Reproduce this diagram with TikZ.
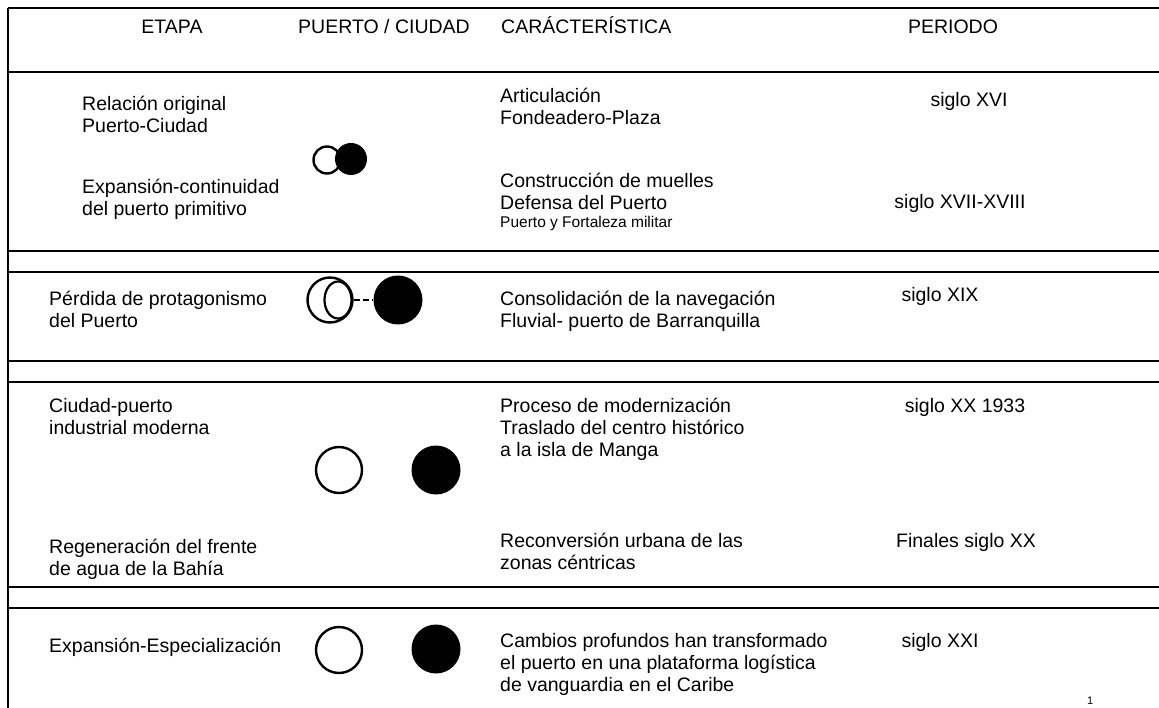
\documentclass[tikz,border=0pt]{standalone}
\usepackage{fontspec}
\setmainfont{Liberation Sans}
\usepackage{xcolor}
\usepackage{tikz}

\tikzset{
  texto/.style={anchor=north west, align=left, inner sep=0pt, font=\fontsize{19.5}{22}\selectfont},
  titulo/.style={anchor=base, inner sep=0pt, font=\fontsize{19.5}{22}\selectfont},
  chico/.style={anchor=base west, inner sep=0pt, font=\fontsize{15.5}{18}\selectfont},
  raya/.style={line width=2pt},
  puerto/.style={circle, draw, line width=2.4pt, fill=white, inner sep=0pt},
  ciudad/.style={circle, fill=black, inner sep=0pt}
}

\begin{document}
\begin{tikzpicture}[x=1pt,y=-1pt]
\useasboundingbox (0,0) rectangle (1159,708);

% lineas de la tabla
\draw[raya] (8,8) -- (1159,8);
\draw[raya] (8,72) -- (1159,72);
\draw[raya] (8,251) -- (1159,251);
\draw[raya] (8,272) -- (1159,272);
\draw[raya] (8,361) -- (1159,361);
\draw[raya] (8,382) -- (1159,382);
\draw[raya] (8,587) -- (1159,587);
\draw[raya] (8,608) -- (1159,608);
\draw[raya] (8,8) -- (8,708);

% encabezado
\node[titulo] (hEtapa) at (172,34){ETAPA};
\node[titulo] (hPuerto) at (384,34){PUERTO / CIUDAD};
\node[titulo, anchor=base west] (hCarac) at (501,34){CARÁCTERÍSTICA};
\node[titulo] (hPeriodo) at (953,34){PERIODO};

% fila 1
\node[texto] (e1) at (82,96){Relación original\\Puerto-Ciudad};
\node[texto] (e2) at (82,179){Expansión-continuidad\\del puerto primitivo};
\node[texto] (c1) at (500,88){Articulación\\Fondeadero-Plaza};
\node[texto] (c2) at (500,173){Construcción de muelles\\Defensa del Puerto};
\node[chico] (c3) at (500,228){Puerto y Fortaleza militar};
\node[titulo] (p1) at (969,107){siglo XVI};
\node[titulo] (p2) at (960,209){siglo XVII-XVIII};
\node[puerto, minimum size=27pt] (pa1) at (327,160){};
\node[ciudad, minimum size=32pt] (ci1) at (351,159){};

% fila 2
\node[texto] (e3) at (49,291){Pérdida de protagonismo\\del Puerto};
\node[texto] (c4) at (500,291){Consolidación de la navegación\\Fluvial- puerto de Barranquilla};
\node[titulo] (p3) at (940,302){siglo XIX};
\node[puerto, minimum size=45pt] (pa2) at (330,300){};
\draw[line width=2.2pt] ([xshift=8pt]pa2.center) ellipse [x radius=13.5pt, y radius=18.5pt];
\node[ciudad, minimum size=49pt] (ci2) at (398,300){};
\draw[line width=2pt, dash pattern=on 6pt off 3pt] (pa2.east) -- (ci2.west);

% fila 3
\node[texto] (e4) at (49,398){Ciudad-puerto\\industrial moderna};
\node[texto] (c5) at (500,398){Proceso de modernización\\Traslado del centro histórico\\a la isla de Manga};
\node[titulo] (p4) at (965,412){siglo XX 1933};
\node[texto] (e5) at (49,539){Regeneración del frente\\de agua de la Bahía};
\node[texto] (c6) at (500,533){Reconversión urbana de las\\zonas céntricas};
\node[titulo] (p5) at (966,547){Finales siglo XX};
\node[puerto, minimum size=46pt] (pa3) at (339,470){};
\node[ciudad, minimum size=49pt] (ci3) at (436,470){};

% fila 4
\node[texto] (e6) at (49,638){Expansión-Especialización};
\node[texto] (c7) at (500,633){Cambios profundos han transformado\\el puerto en una plataforma logística\\de vanguardia en el Caribe};
\node[titulo] (p6) at (940,647){siglo XXI};
\node[puerto, minimum size=46pt] (pa4) at (339,650){};
\node[ciudad, minimum size=49pt] (ci4) at (436,649){};
\node[chico, font=\fontsize{11}{13}\selectfont] (pag) at (1087,704){1};
\end{tikzpicture}
\end{document}
